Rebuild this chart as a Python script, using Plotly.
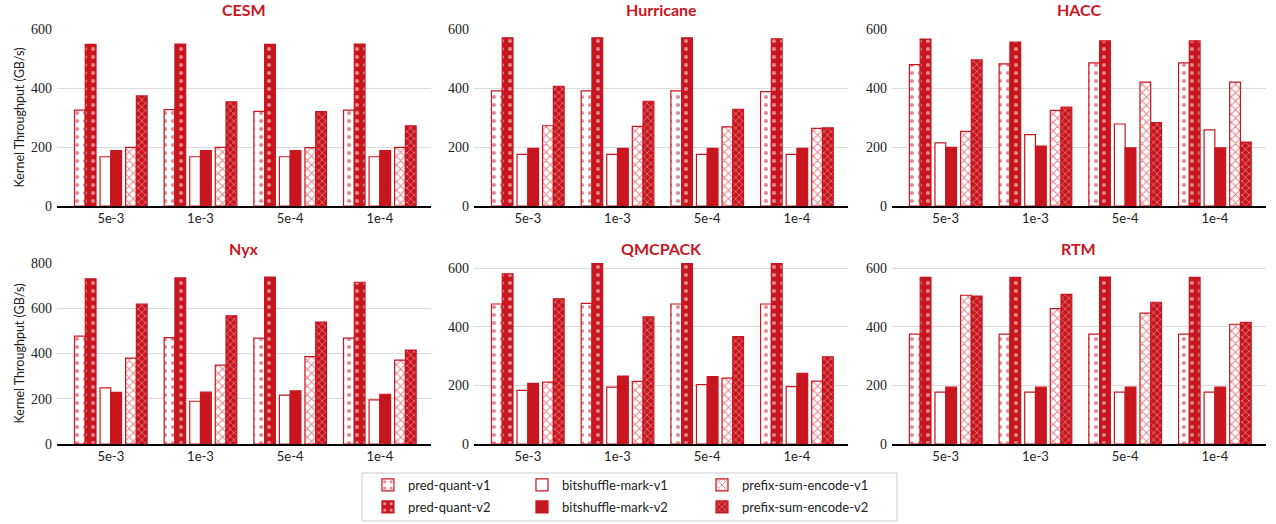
import plotly.graph_objects as go
from plotly.subplots import make_subplots

# Error-bound settings on the x axis of every panel
thresholds = ["5e-3", "1e-3", "5e-4", "1e-4"]
datasets = ["CESM", "Hurricane", "HACC", "Nyx", "QMCPACK", "RTM"]

# Kernel throughput (GB/s); one row per dataset, one value per threshold
pred_quant_v1 = [
    [325, 327, 321, 325],   # CESM
    [390, 390, 390, 388],   # Hurricane
    [479, 482, 485, 485],   # HACC
    [477, 470, 468, 468],   # Nyx
    [478, 480, 478, 478],   # QMCPACK
    [375, 375, 375, 375],   # RTM
]
pred_quant_v2 = [
    [548, 549, 548, 549],
    [570, 570, 570, 567],
    [566, 556, 560, 560],
    [730, 734, 738, 715],
    [581, 619, 617, 622],
    [569, 569, 570, 569],
]
bitshuffle_mark_v1 = [
    [167, 167, 167, 167],
    [175, 175, 175, 175],
    [214, 242, 278, 258],
    [248, 189, 216, 195],
    [183, 194, 203, 196],
    [177, 177, 177, 177],
]
bitshuffle_mark_v2 = [
    [188, 188, 188, 188],
    [195, 195, 195, 195],
    [199, 203, 197, 197],
    [228, 229, 235, 220],
    [207, 232, 230, 241],
    [194, 194, 194, 194],
]
prefix_sum_encode_v1 = [
    [199, 199, 198, 199],
    [272, 270, 268, 263],
    [253, 324, 420, 420],
    [380, 349, 386, 371],
    [211, 214, 225, 215],
    [508, 462, 447, 409],
]
prefix_sum_encode_v2 = [
    [373, 353, 320, 272],
    [406, 355, 328, 265],
    [495, 335, 283, 217],
    [618, 567, 539, 415],
    [496, 434, 367, 298],
    [505, 511, 484, 415],
]

y_max = [600, 600, 600, 800, 618, 618]

RED = "#c8161f"
GRID = "#dcdcdc"
SANS = "Lato"
SERIF = "Liberation Serif"

W = 0.12    # bar width in category units
G = 0.045   # gap between kernel pairs
X0 = -0.405

series = [
    # name, values, offset, pattern, legend id
    ("pred-quant-v1", pred_quant_v1, X0,
     dict(shape=".", bgcolor="white", fgcolor=RED, size=8, solidity=0.22), "legend"),
    ("pred-quant-v2", pred_quant_v2, X0 + W,
     dict(shape=".", bgcolor=RED, fgcolor="white", size=8, solidity=0.2), "legend2"),
    ("bitshuffle-mark-v1", bitshuffle_mark_v1, X0 + 2 * W + G, None, "legend3"),
    ("bitshuffle-mark-v2", bitshuffle_mark_v2, X0 + 3 * W + G, None, "legend4"),
    ("prefix-sum-encode-v1", prefix_sum_encode_v1, X0 + 4 * W + 2 * G,
     dict(shape="x", bgcolor="white", fgcolor=RED, size=6, solidity=0.35), "legend5"),
    ("prefix-sum-encode-v2", prefix_sum_encode_v2, X0 + 5 * W + 2 * G,
     dict(shape="x", bgcolor=RED, fgcolor="white", size=5, solidity=0.25), "legend6"),
]

fig = make_subplots(rows=2, cols=3)

for k, ds in enumerate(datasets):
    r, c = k // 3 + 1, k % 3 + 1
    for name, vals, off, pat, lg in series:
        fill = "white" if name == "bitshuffle-mark-v1" else RED
        marker = dict(color=fill, line=dict(color=RED, width=1.2))
        if pat is not None:
            marker["pattern"] = pat
        fig.add_trace(go.Bar(
            x=thresholds, y=vals[k], name=name, offset=off, width=W,
            marker=marker, legend=lg, showlegend=(k == 0),
        ), row=r, col=c)

# Panel geometry (fractions of the plotting area)
x_dom = [(0.0, 0.3093), (0.3449, 0.6543), (0.6906, 1.0)]
y_dom = [(0.5735, 1.0), (0.0, 0.4361)]

for k, ds in enumerate(datasets):
    r, c = k // 3, k % 3
    i = k + 1
    sx = "" if i == 1 else str(i)
    fig.layout["xaxis" + sx].update(
        domain=x_dom[c], type="category", range=[-0.6, 3.57],
        showline=True, linecolor="black", linewidth=1.5, layer="below traces",
        showgrid=False, ticks="", tickfont=dict(family=SANS, size=13, color="#222"),
    )
    fig.layout["yaxis" + sx].update(
        domain=y_dom[r], range=[0, y_max[k]], dtick=200, tick0=0,
        showgrid=True, gridcolor=GRID, gridwidth=1, zeroline=False,
        showline=False, ticks="", ticklabelstandoff=4,
        tickfont=dict(family=SERIF, size=14, color="#222"),
    )
    if c == 0:
        fig.layout["yaxis" + sx].update(
            title=dict(text="Kernel Throughput (GB/s)", standoff=3,
                       font=dict(family=SANS, size=12.5, color="#222")))
    xm = (x_dom[c][0] + x_dom[c][1]) / 2
    ty = 1.0458 if r == 0 else 0.47
    fig.add_annotation(
        x=xm, y=ty, xref="paper", yref="paper", text="<b>%s</b>" % ds,
        showarrow=False, xanchor="center", yanchor="middle",
        font=dict(family=SANS, size=16, color=RED),
    )

# One legend per entry, laid out as three columns by two rows
leg_x = [0.2572, 0.2572, 0.3846, 0.3846, 0.5335, 0.5335]
leg_y = [-0.0627, -0.1157, -0.0627, -0.1157, -0.0627, -0.1157]
leg_ids = ["legend", "legend2", "legend3", "legend4", "legend5", "legend6"]
legends = {}
for lid, lx, ly in zip(leg_ids, leg_x, leg_y):
    legends[lid] = dict(x=lx, y=ly, xanchor="left", yanchor="top", orientation="v",
                        bgcolor="rgba(0,0,0,0)", borderwidth=0,
                        font=dict(family=SANS, size=13, color="#222"))

fig.update_layout(
    barmode="overlay",
    width=1276, height=524,
    margin=dict(l=57, r=10, t=29, b=80, autoexpand=False),
    paper_bgcolor="white", plot_bgcolor="white",
    **legends,
)

# Frame around the legend block
fig.add_shape(type="rect", xref="paper", yref="paper",
              x0=0.2523, x1=0.6948, y0=-0.1855, y1=-0.0699,
              line=dict(color="#cccccc", width=1), fillcolor="rgba(0,0,0,0)")

fig.write_html("out.html")
